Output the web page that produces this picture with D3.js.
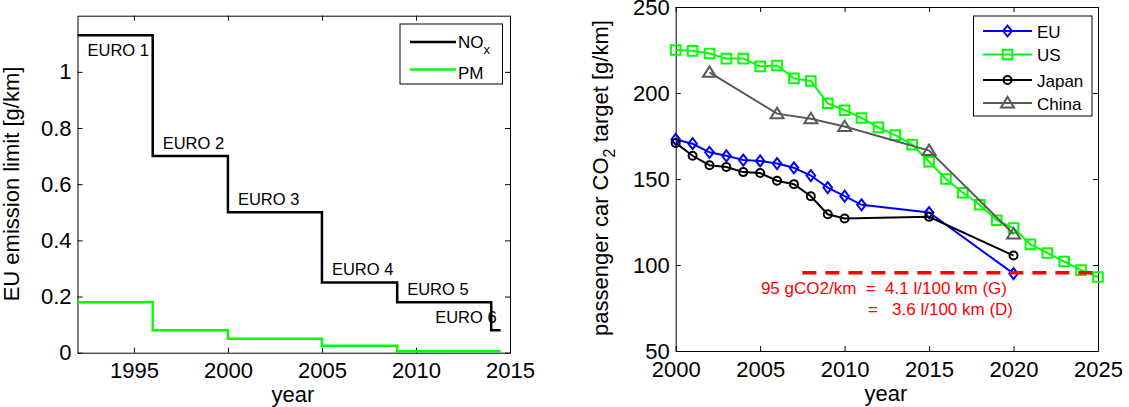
<!DOCTYPE html>
<html>
<head>
<meta charset="utf-8">
<script src="https://cdn.jsdelivr.net/npm/d3@7"></script>
<style>
    body { margin: 0; background: #fff; }
    text { font-family: "Liberation Sans", Arial, sans-serif; }
</style>
</head>
<body>
<svg id="chart" width="1129" height="407"></svg>
<script>
    /*
    Left panel data: EU emission limits per Euro stage
     */
    var stageYears = [1992, 1996, 2000, 2005, 2009, 2014];
    var stageEnd = 2014.5;
    var stageNames = ["EURO 1", "EURO 2", "EURO 3", "EURO 4", "EURO 5", "EURO 6"];
    var noxLimit = [1.13, 0.70, 0.50, 0.25, 0.18, 0.08];
    var pmLimit = [0.18, 0.08, 0.05, 0.025, 0.005, 0.005];
    var leftXTicks = [1995, 2000, 2005, 2010, 2015];
    var leftYTicks = [0, 0.2, 0.4, 0.6, 0.8, 1];

    /*
    Right panel data: passenger car CO2 targets
     */
    var euYears = [2000, 2001, 2002, 2003, 2004, 2005, 2006, 2007, 2008, 2009, 2010, 2011, 2015, 2020];
    var euTarget = [173, 170.5, 165.5, 163.5, 161, 160.5, 159, 156.5, 152, 145, 140, 135, 130.5, 95];
    var usYears = [2000, 2001, 2002, 2003, 2004, 2005, 2006, 2007, 2008, 2009, 2010, 2011, 2012,
                   2013, 2014, 2015, 2016, 2017, 2018, 2019, 2020, 2021, 2022, 2023, 2024, 2025];
    var usTarget = [225, 224.5, 223, 220, 220, 215.5, 216, 208.5, 207, 194, 190, 185.5, 180,
                    175.5, 170, 160, 150, 142, 135, 126, 121.5, 112, 107, 102, 97, 93];
    var jpYears = [2000, 2001, 2002, 2003, 2004, 2005, 2006, 2007, 2008, 2009, 2010, 2015, 2020];
    var jpTarget = [171, 163.5, 158, 157, 154, 153.5, 149, 147, 140, 129.5, 127, 128, 105.5];
    var cnYears = [2002, 2006, 2008, 2010, 2015, 2020];
    var cnTarget = [212, 188, 185, 180.5, 166.5, 118];
    var targetYears = [2007.5, 2025];
    var targetLevel = 95.5;
    var targetNote = ["95 gCO2/km  =  4.1 l/100 km (G)", "=   3.6 l/100 km (D)"];
    var rightXTicks = [2000, 2005, 2010, 2015, 2020, 2025];
    var rightYTicks = [50, 100, 150, 200, 250];

    var svg = d3.select("#chart");
    svg.append("rect").attr("width", 1129).attr("height", 407).attr("fill", "#fff");

    /*
    frame()
        Matlab style box: inward ticks on all four sides,
        labels only on bottom and left
     */
    function frame(x, y, xTicks, yTicks) {
        var g = svg.append("g");
        var x0 = x.range()[0], x1 = x.range()[1];
        var y0 = y.range()[0], y1 = y.range()[1];

        g.append("g").attr("transform", "translate(0," + y0 + ")")
            .call(d3.axisBottom(x).tickValues(xTicks).tickFormat(d3.format("d"))
                .tickSizeInner(-5).tickSizeOuter(0).tickPadding(10));
        g.append("g").attr("transform", "translate(0," + y1 + ")")
            .call(d3.axisTop(x).tickValues(xTicks).tickFormat("")
                .tickSizeInner(-5).tickSizeOuter(0));
        g.append("g").attr("transform", "translate(" + x0 + ",0)")
            .call(d3.axisLeft(y).tickValues(yTicks).tickFormat(d3.format("~g"))
                .tickSizeInner(-5).tickSizeOuter(0).tickPadding(6));
        g.append("g").attr("transform", "translate(" + x1 + ",0)")
            .call(d3.axisRight(y).tickValues(yTicks).tickFormat("")
                .tickSizeInner(-5).tickSizeOuter(0));

        g.selectAll("path.domain").attr("stroke", "#000").attr("stroke-width", 1);
        g.selectAll(".tick line").attr("stroke", "#000");
        g.selectAll(".tick text")
            .attr("fill", "#000")
            .style("font-family", '"Liberation Sans", Arial, sans-serif')
            .style("font-size", "22px");
        return g;
    }

    /*
    Left panel
     */
    var xL = d3.scaleLinear().domain([1992, 2015]).range([77.5, 510]);
    var yL = d3.scaleLinear().domain([0, 1.2]).range([352.7, 15.7]);

    frame(xL, yL, leftXTicks, leftYTicks);

    function steps(vals) {
        var pts = stageYears.map(function(yr, i) { return [yr, vals[i]]; });
        pts.push([stageEnd, vals[vals.length - 1]]);
        return pts;
    }

    var stepLine = d3.line()
        .x(function(d) { return xL(d[0]); })
        .y(function(d) { return yL(d[1]); })
        .curve(d3.curveStepAfter);

    svg.append("path").attr("d", stepLine(steps(pmLimit)))
        .attr("fill", "none").attr("stroke", "#00ff00").attr("stroke-width", 2.5);
    svg.append("path").attr("d", stepLine(steps(noxLimit)))
        .attr("fill", "none").attr("stroke", "#000").attr("stroke-width", 2.5);

    svg.selectAll(".stage-label").data(stageNames).enter().append("text")
        .attr("class", "stage-label")
        .attr("x", function(d, i) {
            if (i == stageNames.length - 1) return xL(stageYears[i]) - 56;
            return xL(stageYears[i]) + 10;
        })
        .attr("y", function(d, i) {
            if (i == 0) return yL(noxLimit[i]) + 21;
            return yL(noxLimit[i]) - 7;
        })
        .attr("font-size", 16.5)
        .attr("fill", "#000")
        .text(function(d) { return d; });

    // left legend
    var legL = svg.append("g");
    legL.append("rect").attr("x", 400).attr("y", 24).attr("width", 102.5).attr("height", 60)
        .attr("fill", "#fff").attr("stroke", "#000").attr("stroke-width", 1);
    legL.append("line").attr("x1", 410).attr("x2", 456).attr("y1", 42).attr("y2", 42)
        .attr("stroke", "#000").attr("stroke-width", 2.5);
    legL.append("line").attr("x1", 410).attr("x2", 456).attr("y1", 69.5).attr("y2", 69.5)
        .attr("stroke", "#00ff00").attr("stroke-width", 2.5);
    var noxText = legL.append("text").attr("x", 458).attr("y", 47.5).attr("font-size", 17);
    noxText.append("tspan").text("NO");
    noxText.append("tspan").attr("dy", 6).attr("font-size", 13).text("x");
    legL.append("text").attr("x", 458).attr("y", 79).attr("font-size", 17).text("PM");

    // left axis titles
    svg.append("text")
        .attr("transform", "translate(19,184) rotate(-90)")
        .attr("text-anchor", "middle").attr("font-size", 22)
        .text("EU emission limit [g/km]");
    svg.append("text").attr("x", 293).attr("y", 402)
        .attr("text-anchor", "middle").attr("font-size", 22).text("year");

    /*
    Right panel
     */
    var xR = d3.scaleLinear().domain([2000, 2025]).range([675.7, 1098]);
    var yR = d3.scaleLinear().domain([50, 250]).range([351, 7]);

    frame(xR, yR, rightXTicks, rightYTicks);

    var markers = {
        diamond: "M0,-5.5L4.3,0L0,5.5L-4.3,0Z",
        square: "M-4.8,-4.8H4.8V4.8H-4.8Z",
        circle: d3.symbol(d3.symbolCircle, Math.PI * 16)(),
        triangle: "M0,-6L6.5,4.5L-6.5,4.5Z"
    };

    var series = [
        {name: "EU", years: euYears, values: euTarget, color: "#0000ff", marker: "diamond"},
        {name: "US", years: usYears, values: usTarget, color: "#00ff00", marker: "square"},
        {name: "Japan", years: jpYears, values: jpTarget, color: "#000000", marker: "circle"},
        {name: "China", years: cnYears, values: cnTarget, color: "#595959", marker: "triangle"}
    ];

    var lineR = d3.line()
        .x(function(d) { return xR(d[0]); })
        .y(function(d) { return yR(d[1]); });

    series.forEach(function(s) {
        var pts = s.years.map(function(yr, i) { return [yr, s.values[i]]; });
        var g = svg.append("g");
        g.append("path").attr("d", lineR(pts))
            .attr("fill", "none").attr("stroke", s.color).attr("stroke-width", 2);
        g.selectAll("path.mk").data(pts).enter().append("path")
            .attr("class", "mk")
            .attr("d", markers[s.marker])
            .attr("transform", function(d) { return "translate(" + xR(d[0]) + "," + yR(d[1]) + ")"; })
            .attr("fill", "none").attr("stroke", s.color).attr("stroke-width", 2);
    });

    // 95 g/km target
    svg.append("line")
        .attr("x1", xR(targetYears[0])).attr("x2", xR(targetYears[1]))
        .attr("y1", yR(targetLevel)).attr("y2", yR(targetLevel))
        .attr("stroke", "#ff0000").attr("stroke-width", 3.5)
        .attr("stroke-dasharray", "14,9");
    svg.append("text").attr("x", 1007).attr("y", 294)
        .attr("text-anchor", "end").attr("font-size", 17).attr("fill", "#ff0000")
        .style("white-space", "pre").text(targetNote[0]);
    svg.append("text").attr("x", 1013).attr("y", 315)
        .attr("text-anchor", "end").attr("font-size", 17).attr("fill", "#ff0000")
        .style("white-space", "pre").text(targetNote[1]);

    // right legend
    var legR = svg.append("g");
    legR.append("rect").attr("x", 973.5).attr("y", 16).attr("width", 118.5).attr("height", 100)
        .attr("fill", "#fff").attr("stroke", "#000").attr("stroke-width", 1);
    var rowY = [31, 54.5, 80, 103];
    series.forEach(function(s, i) {
        legR.append("line").attr("x1", 983).attr("x2", 1032).attr("y1", rowY[i]).attr("y2", rowY[i])
            .attr("stroke", s.color).attr("stroke-width", 2);
        legR.append("path").attr("d", markers[s.marker])
            .attr("transform", "translate(1007.5," + rowY[i] + ")")
            .attr("fill", "none").attr("stroke", s.color).attr("stroke-width", 2);
        legR.append("text").attr("x", 1037).attr("y", rowY[i] + 6.5)
            .attr("font-size", 17).attr("fill", "#000").text(s.name);
    });

    // right axis titles
    var co2Label = svg.append("text")
        .attr("transform", "translate(608,178) rotate(-90)")
        .attr("text-anchor", "middle").attr("font-size", 22);
    co2Label.append("tspan").text("passenger car CO");
    co2Label.append("tspan").attr("dy", 7).attr("font-size", 16).text("2");
    co2Label.append("tspan").attr("dy", -7).text(" target [g/km]");
    svg.append("text").attr("x", 886).attr("y", 401)
        .attr("text-anchor", "middle").attr("font-size", 22).text("year");
</script>
</body>
</html>
